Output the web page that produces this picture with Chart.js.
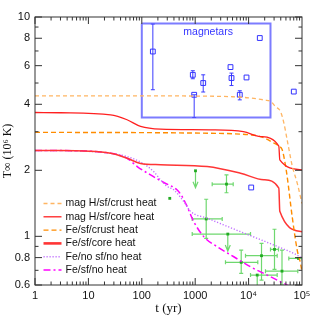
<!DOCTYPE html>
<html>
<head>
<meta charset="utf-8">
<script src="https://cdn.jsdelivr.net/npm/chart.js@4.4.1/dist/chart.umd.min.js"></script>
<style>
  html, body { margin: 0; padding: 0; background: #fff; }
  canvas { display: block; }
</style>
</head>
<body>
<canvas id="chart" width="319" height="319"></canvas>
<script>
// axis ticks
const xTicks = [1, 10, 100, 1000, 1e4, 1e5];
const xTickLabels = ["1", "10", "100", "1000", "10⁴", "10⁵"];
const yTicks = [0.6, 0.8, 1, 2, 4, 6, 8, 10];
const yTickLabels = ["0.6", "0.8", "1", "2", "4", "6", "8", "10"];
const yMinorTicks = [0.7, 0.9, 3, 5, 7, 9];

// cooling curves, age t (yr) -> T (10^6 K)
const ageMagCrust = [1, 100, 1000, 5000, 10000, 20000, 26000, 32000, 39500, 45600, 52800, 65500, 81300, 100000];
const tempMagCrust = [4.37, 4.37, 4.36, 4.33, 4.28, 4.18, 4.12, 3.9, 3.71, 3.3, 2.75, 2.1, 1.75, 1.41];

const ageMagCore = [1, 3, 26, 53, 95, 224, 1935, 8000, 16700, 36800, 38400, 100000];
const tempMagCore = [3.67, 3.66, 3.58, 3.40, 3.17, 3.08, 3.06, 3.00, 2.85, 2.58, 2.23, 2.01];

const ageFeCrust = [1, 1935, 10860, 16700, 30000, 36800, 42600, 47500, 52800, 65500, 81300, 93800, 100000];
const tempFeCrust = [2.98, 2.95, 2.90, 2.85, 2.66, 2.58, 2.48, 2.2, 1.87, 1.23, 0.866, 0.753, 0.69];

const ageFeCore = [1, 3, 26, 53, 95, 224, 1678, 7050, 19300, 36800, 38400, 100000];
const tempFeCore = [2.46, 2.46, 2.39, 2.27, 2.15, 2.12, 2.08, 1.94, 1.81, 1.66, 1.30, 1.05];

const ageFeNoSf = [1, 3, 26, 53, 95, 168, 224, 299, 397, 612, 817, 1678, 7050, 29650, 81300, 100000];
const tempFeNoSf = [2.46, 2.46, 2.39, 2.31, 2.18, 1.97, 1.81, 1.69, 1.63, 1.44, 1.30, 1.21, 1.05, 0.913, 0.821, 0.796];

const ageFeSf = [1, 3, 26, 53, 82, 146, 258, 460, 571, 708, 942, 1449, 2582, 5280, 10860, 22300, 45600, 56000];
const tempFeSf = [2.46, 2.46, 2.39, 2.27, 2.08, 1.905, 1.76, 1.627, 1.517, 1.365, 1.166, 0.996, 0.896, 0.807, 0.726, 0.666, 0.610, 0.595];

// magnetars (blue)
const magAge = [161, 902, 957, 1413, 4580, 4786, 6840, 9140, 16200, 70200, 11190];
const magTemp = [6.96, 5.45, 4.42, 5.0, 5.91, 5.27, 4.42, 5.30, 8.02, 4.57, 1.67];
const magTempErr = [[4.66, 9.29], [5.23, 5.69], [3.48, 4.42], [4.55, 5.45], null, [4.87, 5.55], [4.19, 4.61], null, null, null, null];
const magBoxAge = [100, 25700];
const magBoxTemp = [3.48, 9.35];

// other neutron stars (green)
const obsAge = [1013, 3855, 334, 1607, 4077, 7270, 17450, 30550, 42200, 85900, 14500];
const obsTemp = [1.99, 1.73, 1.49, 1.20, 1.024, 0.761, 0.816, 0.872, 0.694, 0.793, 0.666];
const obsAgeErr = [null, [2080, 5150], null, [879, 3205], [879, 10860], [3690, 14870], [8750, 34300], [25700, 36300], [20700, 83400], [56600, 100000], [10860, 34300]];
const obsTempErr = [null, [1.58, 1.905], null, [0.979, 1.476], null, [0.678, 0.866], [0.632, 0.929], [0.707, 1.077], [0.599, 0.866], null, null];
const obsUpper = [true, false, false, false, true, false, false, false, false, false, true];

function pts(ages, temps) {
  return ages.map((a, i) => ({ x: a, y: temps[i] }));
}

function curve(label, ages, temps, color, width, dash, legendWidth) {
  return {
    label: label,
    data: pts(ages, temps),
    showLine: true,
    pointRadius: 0,
    borderColor: color,
    borderWidth: width,
    borderDash: dash,
    fill: false,
    cubicInterpolationMode: "monotone",
    inLegend: true,
    legendWidth: legendWidth || width
  };
}

const errorBars = {
  id: "errorBars",
  beforeDatasetsDraw(chart) {
    const { ctx, chartArea: a, scales: { x, y } } = chart;
    ctx.save();
    ctx.beginPath();
    ctx.rect(a.left, a.top, a.width, a.height);
    ctx.clip();
    chart.data.datasets.forEach(ds => {
      if (!ds.errTemp) return;
      ctx.strokeStyle = ds.errColor;
      ctx.lineWidth = ds.errWidth;
      ds.data.forEach((p, i) => {
        const px = x.getPixelForValue(p.x);
        const py = y.getPixelForValue(p.y);
        const ex = ds.errAge ? ds.errAge[i] : null;
        const ey = ds.errTemp[i];
        ctx.beginPath();
        if (ex) {
          const x0 = x.getPixelForValue(ex[0]), x1 = x.getPixelForValue(ex[1]);
          ctx.moveTo(x0, py); ctx.lineTo(x1, py);
          ctx.moveTo(x0, py - 2); ctx.lineTo(x0, py + 2);
          ctx.moveTo(x1, py - 2); ctx.lineTo(x1, py + 2);
        }
        if (ey) {
          const y0 = y.getPixelForValue(ey[0]), y1 = y.getPixelForValue(ey[1]);
          ctx.moveTo(px, y0); ctx.lineTo(px, y1);
          ctx.moveTo(px - 2, y0); ctx.lineTo(px + 2, y0);
          ctx.moveTo(px - 2, y1); ctx.lineTo(px + 2, y1);
        }
        if (ds.upper && ds.upper[i]) {
          ctx.moveTo(px, py); ctx.lineTo(px, py + 17);
          ctx.moveTo(px - 2.5, py + 11); ctx.lineTo(px, py + 17); ctx.lineTo(px + 2.5, py + 11);
        }
        ctx.stroke();
      });
    });
    ctx.restore();
  }
};

const frame = {
  id: "frame",
  afterDatasetsDraw(chart) {
    const { ctx, chartArea: a, scales: { x, y } } = chart;
    ctx.save();
    ctx.strokeStyle = "#333";
    ctx.lineWidth = 1;
    ctx.strokeRect(a.left, a.top, a.width, a.height);
    ctx.beginPath();
    for (let d = 0; d < 5; d++) {
      for (let m = 1; m <= 9; m++) {
        const v = m * Math.pow(10, d);
        const px = x.getPixelForValue(v), len = m === 1 ? 7 : 3.5;
        ctx.moveTo(px, a.bottom); ctx.lineTo(px, a.bottom - len);
        ctx.moveTo(px, a.top); ctx.lineTo(px, a.top + len);
      }
    }
    yTicks.concat(yMinorTicks).forEach(v => {
      const py = y.getPixelForValue(v), len = yTicks.includes(v) ? 7 : 3.5;
      ctx.moveTo(a.left, py); ctx.lineTo(a.left + len, py);
      ctx.moveTo(a.right, py); ctx.lineTo(a.right - len, py);
    });
    ctx.stroke();
    ctx.restore();
  }
};

const legendBox = {
  id: "legendBox",
  afterDraw(chart) {
    const { ctx, chartArea: a, scales: { x, y } } = chart;
    ctx.save();
    ctx.font = '10.5px "Liberation Sans", Arial, sans-serif';
    ctx.textBaseline = "middle";
    chart.data.datasets.filter(ds => ds.inLegend).forEach((ds, i) => {
      const yy = a.top + 186.5 + i * 13.3;
      ctx.strokeStyle = ds.borderColor;
      ctx.lineWidth = ds.legendWidth;
      ctx.setLineDash(ds.borderDash || []);
      ctx.beginPath();
      ctx.moveTo(a.left + 8.5, yy); ctx.lineTo(a.left + 26.5, yy);
      ctx.stroke();
      ctx.setLineDash([]);
      ctx.fillStyle = "#111";
      ctx.fillText(ds.label, a.left + 30.5, yy);
    });
    // magnetar box label
    const bx = (x.getPixelForValue(magBoxAge[0]) + x.getPixelForValue(magBoxAge[1])) / 2;
    const by = y.getPixelForValue(magBoxTemp[1]);
    ctx.fillStyle = "#3535ff";
    ctx.textAlign = "center";
    ctx.fillText("magnetars", bx + 2, by + 9);
    ctx.restore();
  }
};

const datasets = [
  curve("mag H/sf/crust heat", ageMagCrust, tempMagCrust, "#ffb562", 1.3, [4, 3]),
  curve("mag H/sf/core heat", ageMagCore, tempMagCore, "#ff2020", 1.3, []),
  curve("Fe/sf/crust heat", ageFeCrust, tempFeCrust, "#ff8c00", 1.4, [5, 3]),
  curve("Fe/sf/core heat", ageFeCore, tempFeCore, "#ff3535", 1.5, [], 2.6),
  curve("Fe/no sf/no heat", ageFeNoSf, tempFeNoSf, "#c070ff", 1.4, [1.2, 1.8]),
  curve("Fe/sf/no heat", ageFeSf, tempFeSf, "#ff00ff", 1.5, [7, 3, 2, 3]),
  {
    label: "magnetar box",
    data: [
      { x: magBoxAge[0], y: magBoxTemp[1] }, { x: magBoxAge[1], y: magBoxTemp[1] },
      { x: magBoxAge[1], y: magBoxTemp[0] }, { x: magBoxAge[0], y: magBoxTemp[0] },
      { x: magBoxAge[0], y: magBoxTemp[1] }
    ],
    showLine: true,
    pointRadius: 0,
    borderColor: "rgba(80,80,255,0.75)",
    borderWidth: 2,
    tension: 0
  },
  {
    label: "magnetars",
    data: pts(magAge, magTemp),
    pointStyle: "rect",
    pointRadius: 3.4,
    backgroundColor: "rgba(255,255,255,0)",
    borderColor: "#3333ff",
    borderWidth: 1,
    errTemp: magTempErr,
    errColor: "#3a3aff",
    errWidth: 1
  },
  {
    label: "neutron stars",
    data: pts(obsAge, obsTemp),
    pointStyle: "rect",
    pointRadius: 2,
    backgroundColor: "#22aa22",
    borderColor: "#22aa22",
    borderWidth: 0,
    errAge: obsAgeErr,
    errTemp: obsTempErr,
    upper: obsUpper,
    errColor: "#6fd86f",
    errWidth: 1.2
  }
];

new Chart(document.getElementById("chart"), {
  type: "scatter",
  data: { datasets: datasets },
  options: {
    responsive: false,
    animation: false,
    layout: { padding: { top: 17, right: 17, left: 0, bottom: 0 } },
    plugins: { legend: { display: false }, tooltip: { enabled: false } },
    scales: {
      x: {
        type: "logarithmic",
        min: 1,
        max: 1e5,
        grid: { display: false, drawTicks: false },
        border: { display: false },
        afterBuildTicks: s => { s.ticks = xTicks.map(v => ({ value: v })); },
        afterFit: s => { s.height = 34; },
        ticks: {
          autoSkip: false,
          maxRotation: 0,
          padding: 4,
          color: "#111",
          font: { family: "'Liberation Sans', Arial, sans-serif", size: 11 },
          callback: (v, i) => xTickLabels[i]
        },
        title: {
          display: true,
          text: "t (yr)",
          color: "#111",
          padding: { top: 0, bottom: 3 },
          font: { family: "'Liberation Serif', 'Times New Roman', serif", size: 13 }
        }
      },
      y: {
        type: "logarithmic",
        min: 0.6,
        max: 10,
        grid: { display: false, drawTicks: false },
        border: { display: false },
        afterBuildTicks: s => { s.ticks = yTicks.map(v => ({ value: v })); },
        afterFit: s => { s.width = 35; },
        ticks: {
          autoSkip: false,
          padding: 5,
          color: "#111",
          font: { family: "'Liberation Sans', Arial, sans-serif", size: 11 },
          callback: (v, i) => yTickLabels[i]
        },
        title: {
          display: true,
          text: "T∞ (10⁶ K)",
          color: "#111",
          padding: { top: 1, bottom: 0 },
          font: { family: "'Liberation Serif', 'Times New Roman', serif", size: 12 }
        }
      }
    }
  },
  plugins: [errorBars, frame, legendBox]
});
</script>
</body>
</html>
